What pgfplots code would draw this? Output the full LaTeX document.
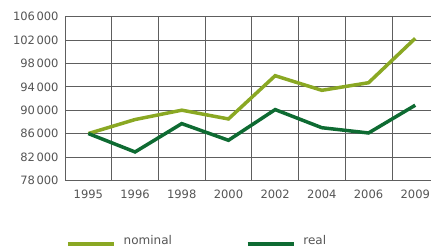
\documentclass[border=0pt]{standalone}
\usepackage{fontspec}
\setmainfont{DejaVu Sans}
\usepackage{pgfplots}
\pgfplotsset{compat=1.18}
\definecolor{nominalc}{HTML}{8AA823}
\definecolor{realc}{HTML}{0E6B32}
\definecolor{gridc}{HTML}{5E5E5E}
\definecolor{labc}{HTML}{555555}
\begin{document}
\begin{tikzpicture}[x=1bp,y=1bp]
\path[use as bounding box] (0,0) rectangle (431,248);
\begin{axis}[
  at={(65bp,67.7bp)}, anchor=south west,
  scale only axis, width=366bp, height=163.6bp,
  xmin=-0.5, xmax=7.337, ymin=78000, ymax=106000,
  axis x line*=bottom, axis y line*=left,
  axis line style={gridc, line width=0.9bp},
  xtick={0,...,7},
  xticklabels={1995,1996,1998,2000,2002,2004,2006,2009},
  minor xtick={0.5,1.5,...,6.5},
  ytick={78000,82000,86000,90000,94000,98000,102000,106000},
  yticklabels={78\kern1.5bp000,82\kern1.5bp000,86\kern1.5bp000,90\kern1.5bp000,94\kern1.5bp000,98\kern1.5bp000,102\kern1.5bp000,106\kern1.5bp000},
  scaled y ticks=false,
  major tick length=0pt, minor tick length=0pt,
  ymajorgrids, xminorgrids,
  major grid style={gridc, line width=0.8bp},
  minor grid style={gridc, line width=0.8bp},
  tick label style={font=\fontsize{11.5bp}{13bp}\selectfont, text=labc},
  xticklabel style={yshift=-6bp},
  yticklabel style={xshift=-3bp},
  clip=false,
  legend columns=2,
  legend style={at={(0.0027,-0.368)}, anchor=west, draw=none, fill=none, inner sep=0pt,
    font=\fontsize{12bp}{14bp}\selectfont, text=labc,
    /tikz/every odd column/.append style={column sep=6bp},
    /tikz/every even column/.append style={column sep=72bp}},
  legend image code/.code={\draw[#1] (0bp,-3.5bp) -- (46bp,-3.5bp);},
]
\addplot[nominalc, line width=3.5bp] coordinates {
(0,86000) (1,88400) (2,90000) (3,88500) (4,95900) (5,93400) (6,94700) (7,102300)};
\addlegendentry{nominal}
\addplot[realc, line width=3.5bp] coordinates {
(0,86000) (1,82850) (2,87700) (3,84850) (4,90100) (5,87000) (6,86100) (7,90850)};
\addlegendentry{real}
\end{axis}
\end{tikzpicture}
\end{document}
